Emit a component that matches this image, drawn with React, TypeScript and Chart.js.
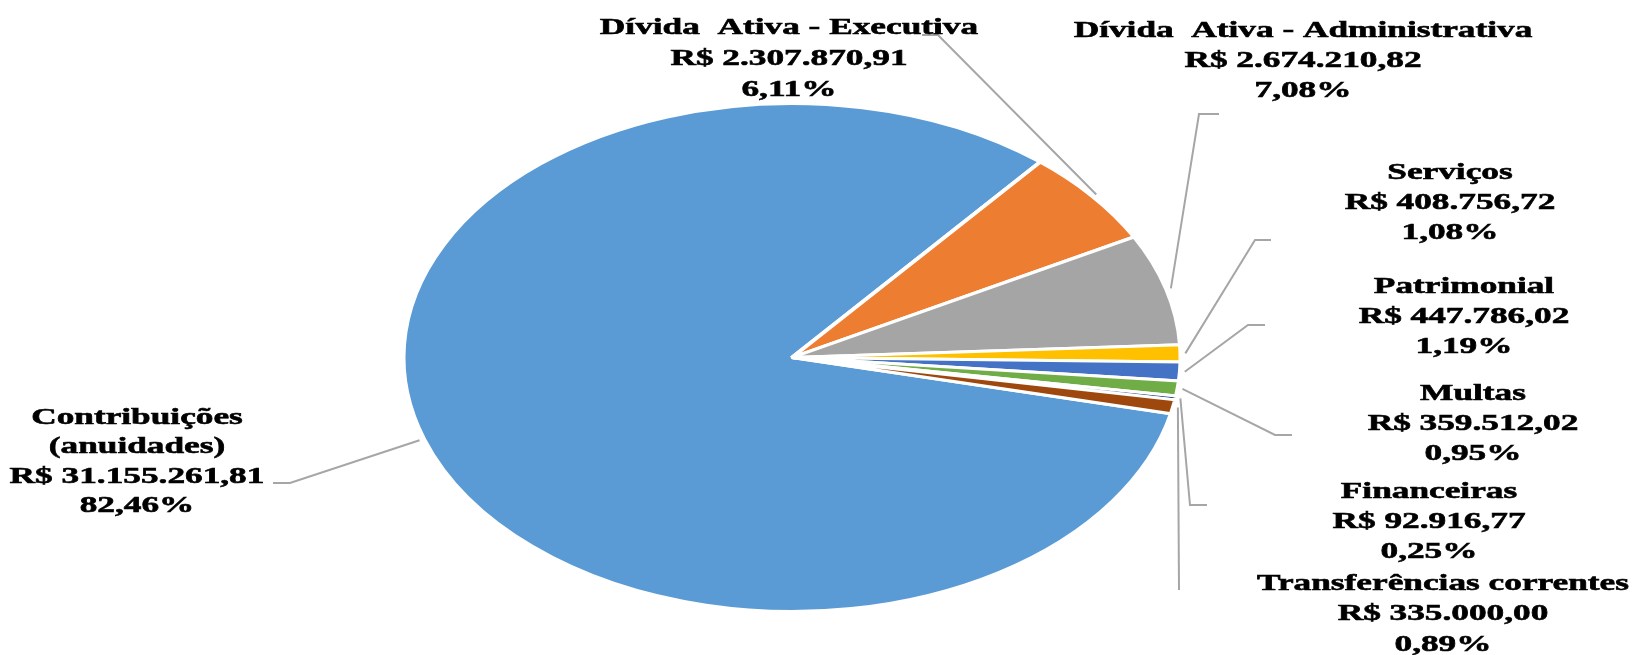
import React, { useEffect, useRef } from "react";
import { Chart, registerables } from "chart.js";

Chart.register(...registerables);

// ---------- data ----------
const categories: string[] = [
  "Contribuições\n(anuidades)",
  "Dívida  Ativa - Executiva",
  "Dívida  Ativa - Administrativa",
  "Serviços",
  "Patrimonial",
  "Multas",
  "Financeiras",
  "Transferências correntes",
];
const values: number[] = [
  31155261.81, 2307870.91, 2674210.82, 408756.72, 447786.02, 359512.02, 92916.77, 335000.0,
];
const colors: string[] = [
  "#5B9BD5", "#ED7D31", "#A5A5A5", "#FFC000", "#4472C4", "#70AD47", "#264478", "#9E480E",
];

// ---------- layout / style ----------
const W = 1639;
const H = 655;
const PIE_R = 254; // vertical radius in px
const X_STRETCH = 386.5 / 252.5; // ellipse horizontal / vertical
const ROTATION = 102.8;
const TEXT_STRETCH = 1.47;
const FONT = "bold 24px 'Liberation Serif', 'Times New Roman', serif";
const LEADER_COLOR = "#A6A6A6";

// label block: center x, first baseline y, line gap, leader polyline (after the edge point)
const labelLayout = [
  { x: 137, y: 424, gap: 29.3, path: [[290, 483], [273, 483]] },
  { x: 789, y: 33.5, gap: 31, path: [[938, 35], [922, 35]] },
  { x: 1303, y: 36.5, gap: 30, path: [[1199, 114], [1219, 114]] },
  { x: 1450, y: 179, gap: 30, path: [[1255, 240], [1271, 240]] },
  { x: 1464, y: 292.5, gap: 30.2, path: [[1248, 325], [1265, 325]] },
  { x: 1473, y: 400, gap: 30, path: [[1275, 435], [1292, 435]] },
  { x: 1429, y: 497.5, gap: 30.3, path: [[1190, 505], [1207, 505]] },
  { x: 1443, y: 590, gap: 30.3, path: [[1179, 590]] },
];

const total = values.reduce((a, b) => a + b, 0);

function fmtBRL(v: number): string {
  const [i, d] = v.toFixed(2).split(".");
  return "R$ " + i.replace(/\B(?=(\d{3})+(?!\d))/g, ".") + "," + d;
}
function fmtPct(v: number): string {
  return ((v / total) * 100).toFixed(2).replace(".", ",") + "%";
}

const stretchPlugin = {
  id: "stretchPie",
  beforeDatasetsDraw(chart: any) {
    const ctx = chart.ctx;
    const arc = chart.getDatasetMeta(0).data[0];
    ctx.save();
    ctx.translate(arc.x, arc.y);
    ctx.scale(X_STRETCH, 1);
    ctx.translate(-arc.x, -arc.y);
  },
  afterDatasetsDraw(chart: any) {
    chart.ctx.restore();
  },
};

const labelPlugin = {
  id: "pieLabels",
  afterDraw(chart: any) {
    const ctx = chart.ctx;
    const meta = chart.getDatasetMeta(0);
    meta.data.forEach((arc: any, i: number) => {
      const lay = labelLayout[i];
      const mid = (arc.startAngle + arc.endAngle) / 2;
      const r = arc.outerRadius + 3;
      const sx = arc.x + Math.cos(mid) * r * X_STRETCH;
      const sy = arc.y + Math.sin(mid) * r;
      ctx.save();
      ctx.strokeStyle = LEADER_COLOR;
      ctx.lineWidth = 2;
      ctx.beginPath();
      ctx.moveTo(sx, sy);
      lay.path.forEach((p) => ctx.lineTo(p[0], p[1]));
      ctx.stroke();
      ctx.restore();

      const lines = [
        ...chart.data.labels[i].split("\n"),
        fmtBRL(values[i]),
        fmtPct(values[i]),
      ];
      ctx.save();
      ctx.font = FONT;
      ctx.fillStyle = "#000000";
      ctx.strokeStyle = "#000000";
      ctx.lineWidth = 0.6;
      ctx.textAlign = "center";
      ctx.textBaseline = "alphabetic";
      lines.forEach((t: string, k: number) => {
        ctx.save();
        ctx.translate(lay.x, lay.y + k * lay.gap);
        ctx.scale(TEXT_STRETCH, 1);
        ctx.fillText(t, 0, 0);
        ctx.strokeText(t, 0, 0);
        ctx.restore();
      });
      ctx.restore();
    });
  },
};

export default function App() {
  const ref = useRef<HTMLCanvasElement | null>(null);
  useEffect(() => {
    if (!ref.current) return;
    const chart = new Chart(ref.current, {
      type: "pie",
      data: {
        labels: categories,
        datasets: [
          {
            data: values,
            backgroundColor: colors,
            borderColor: "#FFFFFF",
            borderWidth: 3,
            hoverOffset: 0,
            offset: 0,
          } as any,
        ],
      },
      options: {
        responsive: false,
        animation: false,
        devicePixelRatio: 1,
        rotation: ROTATION,
        radius: PIE_R,
        events: [],
        layout: { padding: { left: 492, right: 547, top: 104, bottom: 44 } },
        plugins: { legend: { display: false }, tooltip: { enabled: false } },
      } as any,
      plugins: [stretchPlugin, labelPlugin],
    });
    return () => chart.destroy();
  }, []);
  return (
    <div style={{ position: "fixed", left: 0, top: 0, width: W, height: H, background: "#fff" }}>
      <canvas ref={ref} width={W} height={H} style={{ display: "block", width: W, height: H }} />
    </div>
  );
}
